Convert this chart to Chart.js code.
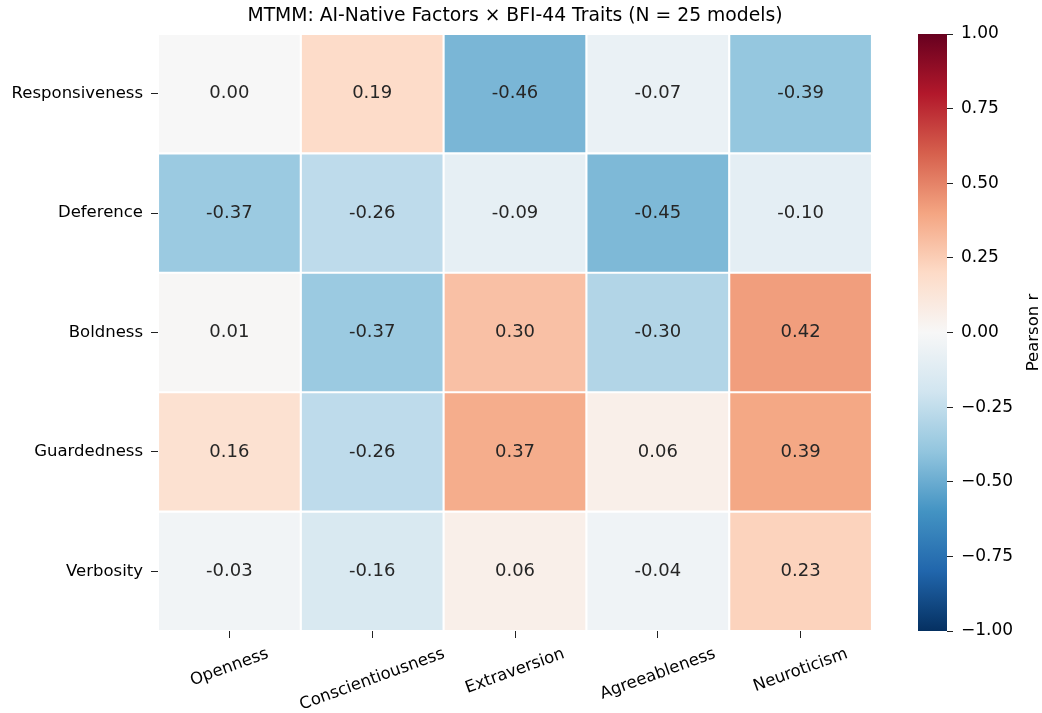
<!DOCTYPE html>
<html><head><meta charset="utf-8">
<script src="https://cdn.jsdelivr.net/npm/chart.js@4"></script>
<style>
html,body{margin:0;padding:0;background:#fff;}
#wrap{position:relative;width:1042px;height:713px;}
#main{position:absolute;left:0;top:0;}
#cbar{position:absolute;left:900px;top:0;}
</style></head><body>
<div id="wrap"><canvas id="main" width="1042" height="713"></canvas><canvas id="cbar" width="142" height="713"></canvas></div>
<script>
// ---- data ----
const titleText = 'MTMM: AI-Native Factors × BFI-44 Traits (N = 25 models)';
const factors = ['Responsiveness', 'Deference', 'Boldness', 'Guardedness', 'Verbosity'];
const traits = ['Openness', 'Conscientiousness', 'Extraversion', 'Agreeableness', 'Neuroticism'];
const responsiveness = [0.00, 0.19, -0.46, -0.07, -0.39];
const deference      = [-0.37, -0.26, -0.09, -0.45, -0.10];
const boldness       = [0.01, -0.37, 0.30, -0.30, 0.42];
const guardedness    = [0.16, -0.26, 0.37, 0.06, 0.39];
const verbosity      = [-0.03, -0.16, 0.06, -0.04, 0.23];
const colorbarTicks  = [-1, -0.75, -0.5, -0.25, 0, 0.25, 0.5, 0.75, 1];
const colorbarLabel  = 'Pearson r';
const rows = [responsiveness, deference, boldness, guardedness, verbosity];

// ---- colormap (RdBu_r) ----
const RDBU_R = ['#053061','#2166ac','#4393c3','#92c5de','#d1e5f0','#f7f7f7','#fddbc7','#f4a582','#d6604d','#b2182b','#67001f'];
const STOPS = RDBU_R.map(h => [1,3,5].map(i => parseInt(h.substr(i,2),16)));
function cmap(v){
  const t = (Math.max(-1, Math.min(1, v)) + 1) / 2 * (STOPS.length - 1);
  const i = Math.min(Math.floor(t), STOPS.length - 2);
  const f = t - i, a = STOPS[i], b = STOPS[i+1];
  return 'rgb(' + a.map((c,k) => Math.round(c + (b[k]-c)*f)).join(',') + ')';
}

const FONT = 'DejaVu Sans';
const TICK_SIZE = 16.5;

const datasets = rows.map((vals, r) => ({
  label: factors[r],
  data: vals.map(() => 1),
  values: vals,
  backgroundColor: vals.map(cmap),
  hoverBackgroundColor: vals.map(cmap),
  borderColor: '#ffffff',
  hoverBorderColor: '#ffffff',
  borderWidth: 1.4,
  borderSkipped: false,
  barPercentage: 1,
  categoryPercentage: 1
}));

const annotPlugin = {
  id: 'annot',
  afterDatasetsDraw(chart){
    const ctx = chart.ctx;
    ctx.save();
    ctx.font = '18px "' + FONT + '"';
    ctx.fillStyle = '#262626';
    ctx.textAlign = 'center';
    ctx.textBaseline = 'middle';
    chart.data.datasets.forEach((ds, di) => {
      chart.getDatasetMeta(di).data.forEach((el, i) => {
        const p = el.getProps(['x','y','base'], true);
        ctx.fillText(ds.values[i].toFixed(2), p.x, (p.y + p.base) / 2);
      });
    });
    ctx.restore();
  }
};

const xLabelPlugin = {
  id: 'xlabels',
  afterDraw(chart){
    const sc = chart.scales.x, ctx = chart.ctx;
    const size = TICK_SIZE, th = 20 * Math.PI / 180;
    ctx.save();
    ctx.font = size + 'px "' + FONT + '"';
    ctx.fillStyle = '#000';
    ctx.textAlign = 'center';
    ctx.textBaseline = 'middle';
    const top = sc.top + 15;
    sc.getLabels().forEach((lab, i) => {
      const x = sc.getPixelForTick(i);
      const w = ctx.measureText(lab).width;
      const bh = w * Math.sin(th) + size * 0.95 * Math.cos(th);
      ctx.save();
      ctx.translate(x, top + bh / 2);
      ctx.rotate(-th);
      ctx.fillText(lab, 0, 0);
      ctx.restore();
    });
    ctx.restore();
  }
};

new Chart(document.getElementById('main'), {
  type: 'bar',
  data: { labels: traits, datasets },
  options: {
    responsive: false,
    animation: false,
    devicePixelRatio: 1,
    layout: { padding: { left: 0, right: 170, top: 0, bottom: 0 } },
    plugins: {
      legend: { display: false },
      tooltip: { enabled: false },
      title: {
        display: true, text: titleText, fullSize: false,
        color: '#000', font: { family: FONT, size: 18.75, weight: 'normal' },
        padding: { top: 5, bottom: 6.5 }
      }
    },
    scales: {
      x: {
        type: 'category', stacked: true, offset: true,
        ticks: { callback: () => '', padding: 0 },
        grid: { offset: false, drawOnChartArea: false, drawTicks: true, tickLength: 7, color: '#222', tickWidth: 1 },
        border: { display: false },
        afterFit: s => { s.height = 82; }
      },
      y: {
        type: 'linear', stacked: true, reverse: true, min: 0, max: 5,
        afterBuildTicks: s => { s.ticks = factors.map((_, i) => ({ value: i + 0.5 })); },
        ticks: { callback: (v, i) => factors[i], font: { family: FONT, size: TICK_SIZE }, color: '#000', padding: 8 },
        grid: { drawOnChartArea: false, drawTicks: true, tickLength: 7, color: '#222', tickWidth: 1 },
        border: { display: false },
        afterFit: s => { s.width = 158; }
      }
    }
  },
  plugins: [annotPlugin, xLabelPlugin]
});

const cbarLabelPlugin = {
  id: 'cbarLabel',
  afterDraw(chart){
    const ctx = chart.ctx, ca = chart.chartArea;
    ctx.save();
    ctx.font = TICK_SIZE + 'px "' + FONT + '"';
    ctx.fillStyle = '#000';
    ctx.textAlign = 'center';
    ctx.textBaseline = 'middle';
    ctx.translate(chart.scales.y.right - 8, (ca.top + ca.bottom) / 2);
    ctx.rotate(-Math.PI / 2);
    ctx.fillText(colorbarLabel, 0, 0);
    ctx.restore();
  }
};

new Chart(document.getElementById('cbar'), {
  type: 'bar',
  data: {
    labels: [''],
    datasets: [{
      data: [[colorbarTicks[0], colorbarTicks[colorbarTicks.length - 1]]],
      backgroundColor: c => {
        const ca = c.chart.chartArea;
        if (!ca) return '#fff';
        const g = c.chart.ctx.createLinearGradient(0, ca.bottom, 0, ca.top);
        RDBU_R.forEach((col, i) => g.addColorStop(i / (RDBU_R.length - 1), col));
        return g;
      },
      borderWidth: 0,
      barPercentage: 1,
      categoryPercentage: 1
    }]
  },
  options: {
    responsive: false,
    animation: false,
    devicePixelRatio: 1,
    layout: { padding: { left: 18, top: 34, bottom: 82, right: 0 } },
    plugins: { legend: { display: false }, tooltip: { enabled: false } },
    scales: {
      x: { display: false },
      y: {
        position: 'right', min: -1, max: 1,
        afterBuildTicks: s => { s.ticks = colorbarTicks.map(v => ({ value: v })); },
        ticks: { callback: v => (v < 0 ? '\u2212' : '') + Math.abs(v).toFixed(2), font: { family: FONT, size: 17 }, color: '#000', padding: 8 },
        grid: { drawOnChartArea: false, drawTicks: true, tickLength: 6, color: '#222' },
        border: { display: false },
        afterFit: s => { s.width = 95; }
      }
    }
  },
  plugins: [cbarLabelPlugin]
});
</script>
</body></html>
